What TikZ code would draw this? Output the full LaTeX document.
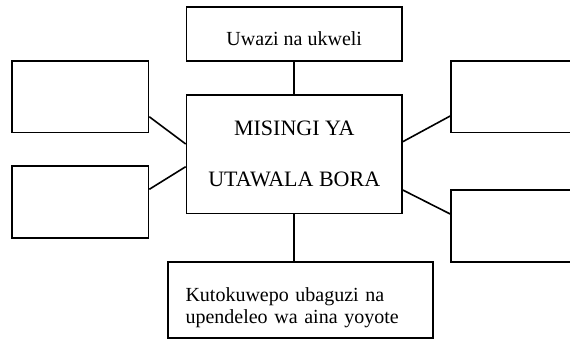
\documentclass[tikz,border=0pt]{standalone}
\usepackage{fontspec}
\setmainfont{Liberation Serif}
\usetikzlibrary{positioning}

\begin{document}
\begin{tikzpicture}[x=1pt,y=-1pt,line width=1.6pt]
\tikzstyle{sanduku}=[draw=black,line width=1.6pt,rectangle,inner sep=0pt]
\tikzstyle{tupu}=[sanduku,minimum width=136.5pt,minimum height=71.5pt]
\useasboundingbox (0,0) rectangle (570,340);
\clip (0,0) rectangle (570,340);
\node[sanduku,minimum width=215.5pt,minimum height=118.6pt,align=center,
  font=\fontsize{22}{51.3}\selectfont] (misingi) at (294.25,154) {MISINGI YA\\UTAWALA BORA};
\node[sanduku,minimum width=215.5pt,minimum height=54.3pt,text height=24pt,text depth=0pt,
  font=\fontsize{20}{24}\selectfont] (uwazi) at (294.25,33.85) {Uwazi na ukweli};
\node[sanduku,minimum width=264.7pt,minimum height=76pt,text width=229.7pt,align=left,
  text height=29pt,text depth=27pt,font=\fontsize{20}{22.5}\selectfont] (kutokuwepo) at (300.35,300)
  {Kutokuwepo ubaguzi na\\upendeleo wa aina yoyote};
\node[tupu] (kushotojuu) at (80.25,96.75) {};
\node[tupu] (kushotochini) at (80.25,202) {};
\node[tupu] (kuliajuu) at (519.25,96.75) {};
\node[tupu] (kuliachini) at (519.25,226) {};
\draw (uwazi) -- (misingi);
\draw (misingi.south) -- (misingi.south |- kutokuwepo.north);
\draw ([yshift=-20pt]kushotojuu.east) -- ([yshift=10pt]misingi.west);
\draw ([yshift=12.7pt]kushotochini.east) -- ([yshift=-12.7pt]misingi.west);
\draw ([yshift=12.3pt]misingi.east) -- ([yshift=-19.25pt]kuliajuu.west);
\draw ([yshift=-36pt]misingi.east) -- ([yshift=12pt]kuliachini.west);
\end{tikzpicture}
\end{document}
